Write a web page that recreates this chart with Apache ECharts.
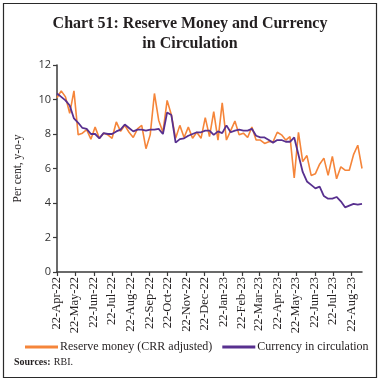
<!DOCTYPE html>
<html>
<head>
<meta charset="utf-8">
<script src="https://cdn.jsdelivr.net/npm/echarts@6/dist/echarts.min.js"></script>
<style>
html,body{margin:0;padding:0;background:#fff;}
#chart{width:380px;height:382px;}
</style>
</head>
<body>
<div id="chart"></div>
<script>
// Weekly observation dates (Fridays)
var weekDates = [
 '2022-04-22','2022-04-29','2022-05-06','2022-05-13','2022-05-20','2022-05-27',
 '2022-06-03','2022-06-10','2022-06-17','2022-06-24','2022-07-01','2022-07-08',
 '2022-07-15','2022-07-22','2022-07-29','2022-08-05','2022-08-12','2022-08-19',
 '2022-08-26','2022-09-02','2022-09-09','2022-09-16','2022-09-23','2022-09-30',
 '2022-10-07','2022-10-14','2022-10-21','2022-10-28','2022-11-04','2022-11-11',
 '2022-11-18','2022-11-25','2022-12-02','2022-12-09','2022-12-16','2022-12-23',
 '2022-12-30','2023-01-06','2023-01-13','2023-01-20','2023-01-27','2023-02-03',
 '2023-02-10','2023-02-17','2023-02-24','2023-03-03','2023-03-10','2023-03-17',
 '2023-03-24','2023-03-31','2023-04-07','2023-04-14','2023-04-21','2023-04-28',
 '2023-05-05','2023-05-12','2023-05-19','2023-05-26','2023-06-02','2023-06-09',
 '2023-06-16','2023-06-23','2023-06-30','2023-07-07','2023-07-14','2023-07-21',
 '2023-07-28','2023-08-04','2023-08-11','2023-08-18','2023-08-25','2023-09-01',
 '2023-09-08'
];
// Reserve money (CRR adjusted), per cent y-o-y
var reserveMoney = [
 10.1,10.5,10.15,9.2,10.5,7.95,8.05,8.25,7.7,8.4,7.75,8.05,
 7.95,7.75,8.7,8.15,8.5,8.1,7.8,8.3,8.5,7.15,7.95,10.35,
 8.8,8.1,9.95,9.1,7.75,8.5,7.8,8.4,7.75,8.1,7.75,8.95,
 7.85,9.3,7.65,9.8,7.65,8.2,8.75,7.95,8.05,7.8,8.4,7.65,
 7.65,7.45,7.55,7.55,8.1,7.95,7.65,7.85,5.45,8.1,6.4,6.75,
 5.6,5.7,6.25,6.6,5.6,6.7,5.4,6.1,5.9,5.9,6.8,7.35,
 6.0
];
// Currency in circulation, per cent y-o-y
var currency = [
 10.35,10.15,9.95,9.65,8.9,8.65,8.35,8.3,8.0,8.0,7.75,8.05,
 8.0,8.0,8.15,8.25,8.55,8.35,8.15,8.25,8.25,8.2,8.25,8.25,
 8.3,8.0,9.25,9.1,7.5,7.7,7.75,7.9,8.0,8.1,8.1,8.2,
 8.2,7.95,8.15,8.05,8.5,8.1,8.2,8.25,8.2,8.2,8.3,7.9,
 7.8,7.8,7.65,7.5,7.65,7.65,7.55,7.55,7.8,6.8,5.8,5.25,
 5.05,4.85,4.95,4.4,4.25,4.25,4.35,4.1,3.75,3.85,3.95,3.9,
 3.95
];
var yTicks = [0, 2, 4, 6, 8, 10, 12];
var seriesNames = ['Reserve money (CRR adjusted)', 'Currency in circulation'];
var axisStart = '2022-04-22';
var axisEnd = '2023-09-08';
var monthAbbr = ['Jan','Feb','Mar','Apr','May','Jun','Jul','Aug','Sep','Oct','Nov','Dec'];

// Daily category axis (like a spreadsheet date axis)
var days = [];
(function () {
  var d = new Date(axisStart + 'T00:00:00Z');
  var e = new Date(axisEnd + 'T00:00:00Z');
  while (d <= e) {
    days.push(d.toISOString().slice(0, 10));
    d = new Date(d.getTime() + 86400000);
  }
})();
function isTickDay(v) { return v.slice(8, 10) === '22'; }
function fmt(v) {
  return v.slice(8, 10) + '-' + monthAbbr[parseInt(v.slice(5, 7), 10) - 1] + '-' + v.slice(2, 4);
}
function pairs(vals) {
  return weekDates.map(function (d, i) { return [d, vals[i]]; });
}

var serif = '"Liberation Serif", "DejaVu Serif", serif';
var chart = echarts.init(document.getElementById('chart'), null, { renderer: 'canvas' });
chart.setOption({
  animation: false,
  backgroundColor: '#ffffff',
  title: {
    text: 'Chart 51: Reserve Money and Currency\nin Circulation',
    left: 'center',
    top: 9,
    textStyle: { fontFamily: serif, fontSize: 16, fontWeight: 600, color: '#231f20', lineHeight: 20 }
  },
  grid: { left: 57, right: 18, top: 65, bottom: 110, containLabel: false },
  legend: {
    left: 20,
    top: 336,
    width: 360,
    itemWidth: 33,
    itemHeight: 3,
    itemGap: 10,
    icon: 'rect',
    textStyle: { fontFamily: serif, fontSize: 12, color: '#231f20', padding: [0, 0, 0, -3] },
    data: seriesNames
  },
  xAxis: {
    type: 'category',
    data: days,
    boundaryGap: false,
    axisLine: { lineStyle: { color: '#3a3a3a', width: 1.5 } },
    axisTick: { show: true, length: 4, interval: function (i, v) { return isTickDay(v); }, lineStyle: { color: '#3a3a3a', width: 1.2 } },
    axisLabel: {
      interval: function (i, v) { return isTickDay(v); },
      rotate: 90,
      margin: 5,
      fontFamily: serif,
      fontSize: 12.5,
      color: '#231f20',
      formatter: fmt
    },
    splitLine: { show: false }
  },
  yAxis: {
    type: 'value',
    min: yTicks[0],
    max: yTicks[yTicks.length - 1],
    interval: 2,
    name: 'Per cent, y-o-y',
    nameLocation: 'middle',
    nameRotate: 90,
    nameGap: 33,
    nameTextStyle: { fontFamily: serif, fontSize: 11.5, color: '#231f20' },
    axisLine: { show: true, lineStyle: { color: '#3a3a3a', width: 1.5 } },
    axisTick: { show: true, length: 4, lineStyle: { color: '#3a3a3a', width: 1.2 } },
    axisLabel: { fontFamily: '"Open Sans", "Liberation Sans", sans-serif', fontSize: 11, color: '#333', margin: 6 },
    splitLine: { show: false }
  },
  series: [
    {
      name: seriesNames[0], type: 'line', data: pairs(reserveMoney),
      showSymbol: false, symbol: 'none',
      lineStyle: { color: '#f5853a', width: 1.6 }, itemStyle: { color: '#f5853a' }, z: 2
    },
    {
      name: seriesNames[1], type: 'line', data: pairs(currency),
      showSymbol: false, symbol: 'none',
      lineStyle: { color: '#58308f', width: 1.8 }, itemStyle: { color: '#58308f' }, z: 3
    }
  ],
  graphic: [
    { type: 'rect', shape: { x: 3.5, y: 3.5, width: 373, height: 374 }, style: { fill: 'none', stroke: '#2a2a2a', lineWidth: 1.2 }, silent: true },
    {
      type: 'text', left: 14, top: 356,
      style: {
        text: '{b|Sources:} {r|RBI.}',
        rich: {
          b: { fontFamily: serif, fontSize: 10, fontWeight: 'bold', fill: '#231f20' },
          r: { fontFamily: serif, fontSize: 10, fill: '#231f20' }
        }
      }
    }
  ]
});
</script>
</body>
</html>
